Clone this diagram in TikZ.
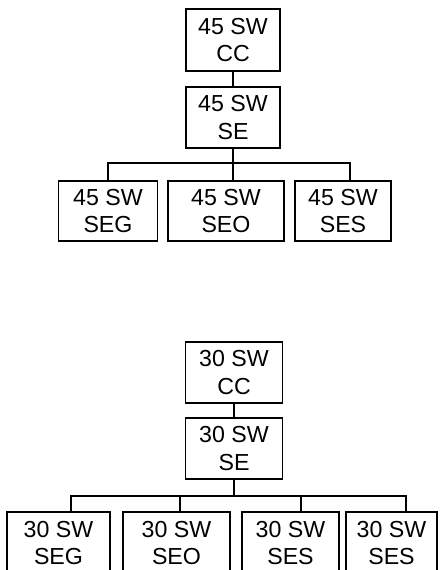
\documentclass[tikz,border=0pt]{standalone}
\usepackage{fontspec}
\setmainfont{Liberation Sans}

\begin{document}
\begin{tikzpicture}[x=0.02cm,y=-0.02cm,line width=1.1pt,
  every node/.style={draw,inner sep=0pt,outer sep=0pt,align=center,font=\fontsize{13.2}{15.9}\selectfont}]
\clip (0,0) rectangle (439,570);
\node[minimum width=1.88cm,minimum height=1.24cm] (cc45) at (233,40) {45 SW\\CC};
\node[minimum width=1.88cm,minimum height=1.22cm] (se45) at (233,117.5) {45 SW\\SE};
\foreach \n/\x/\w/\t in {seg45/108/1.98/SEG,seo45/226/2.32/SEO,ses45/343/1.92/SES} {
\node[minimum width=\w cm,minimum height=1.2cm] (\n) at (\x,211) {45 SW\\\t};
}
\node[minimum width=1.94cm,minimum height=1.22cm] (cc30) at (234,372.5) {30 SW\\CC};
\node[minimum width=1.94cm,minimum height=1.22cm] (se30) at (234,448.5) {30 SW\\SE};
\foreach \n/\x/\w/\t in {seg30/58.5/2.06/SEG,seo30/176.5/2.14/SEO,ses30a/290.5/1.94/SES,ses30b/391.5/1.82/SES} {
\node[minimum width=\w cm,minimum height=1.24cm] (\n) at (\x,543) {30 SW\\\t};
}
\draw (cc45) -- (se45);
\coordinate (j45) at (233,163);
\path (ses45.north) ++(7,0) coordinate (ses45-in);
\draw (se45.south) -- (se45.south |- seo45.north);
\draw (seg45.north) |- (j45) -| (ses45-in);
\draw (cc30) -- (se30);
\coordinate (j30) at (234,496);
\foreach \n/\d in {seg30/12.5,seo30/3.5,ses30a/10.5,ses30b/14.5} {
\path (\n.north) ++(\d,0) coordinate (\n-in);
}
\draw (se30.south) -- (j30);
\draw (seg30-in) |- (j30) -| (ses30b-in);
\draw (seo30-in) -- (seo30-in |- j30);
\draw (ses30a-in) -- (ses30a-in |- j30);
\end{tikzpicture}
\end{document}
